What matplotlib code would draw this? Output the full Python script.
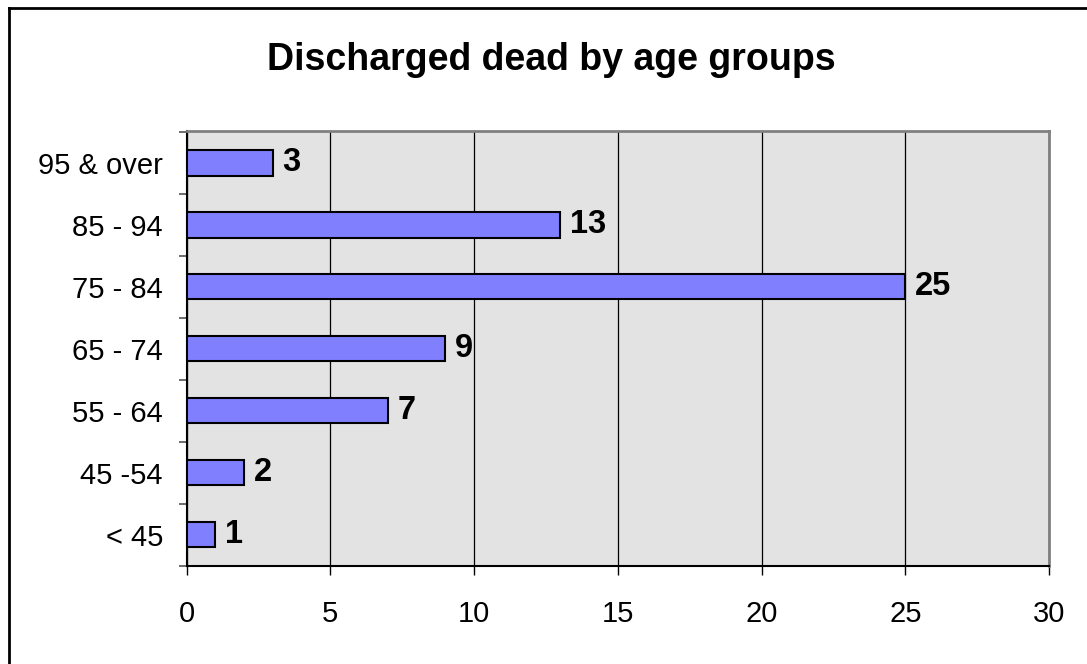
import numpy as np
import matplotlib.pyplot as plt
from matplotlib.lines import Line2D

plt.rcParams['font.family'] = ['Liberation Sans', 'DejaVu Sans']

age_groups = ['< 45', '45 -54', '55 - 64', '65 - 74', '75 - 84', '85 - 94', '95 & over']
deaths = [1, 2, 7, 9, 25, 13, 3]
x_ticks = [0, 5, 10, 15, 20, 25, 30]

fig = plt.figure(figsize=(10.87, 6.64), dpi=100)
ax = fig.add_axes([0.1716, 0.1483, 0.9653 - 0.1716, 0.8032 - 0.1483])
ax.set_facecolor('#E3E3E3')

pos = np.arange(len(age_groups))
ax.barh(pos, deaths, height=0.41, color='#8080FF', edgecolor='black', linewidth=1.5, zorder=3)

for p, v in zip(pos, deaths):
    ax.annotate(str(v), (v, p), xytext=(7, 0), textcoords='offset points',
                ha='left', va='center', fontsize=23.5, fontweight='bold', zorder=4)

ax.set_xlim(0, 30)
ax.set_ylim(-0.5, 6.52)
ax.set_xticks(x_ticks)
ax.set_xticklabels([str(t) for t in x_ticks])
ax.xaxis.grid(True, color='black', linewidth=0.9, zorder=1)
ax.set_axisbelow(True)

ax.set_yticks(pos)
ax.set_yticklabels(age_groups)
ax.set_yticks(np.arange(-0.5, 7, 1), minor=True)
ax.tick_params(axis='y', which='major', length=0, pad=17, labelsize=21)
ax.tick_params(axis='y', which='minor', length=6, width=1.2, color='#555555')
ax.tick_params(axis='x', which='major', length=6.5, width=1, pad=18, labelsize=21)

for side in ['left', 'bottom']:
    ax.spines[side].set_color('black')
    ax.spines[side].set_linewidth(1.5)
for side in ['top', 'right']:
    ax.spines[side].set_color('#808080')
    ax.spines[side].set_linewidth(2)

fig.text(0.507, 0.8946, 'Discharged dead by age groups', ha='center', va='baseline',
         fontsize=27, fontweight='bold')

# chart frame, only the top and left edges fall inside the image
bx, by = 8.5 / 1087, 1 - 8 / 664
fig.add_artist(Line2D([bx, 1.01], [by, by], transform=fig.transFigure, color='black', linewidth=2))
fig.add_artist(Line2D([bx, bx], [by, -0.01], transform=fig.transFigure, color='black', linewidth=2))

fig.savefig('out.png', dpi=100)
